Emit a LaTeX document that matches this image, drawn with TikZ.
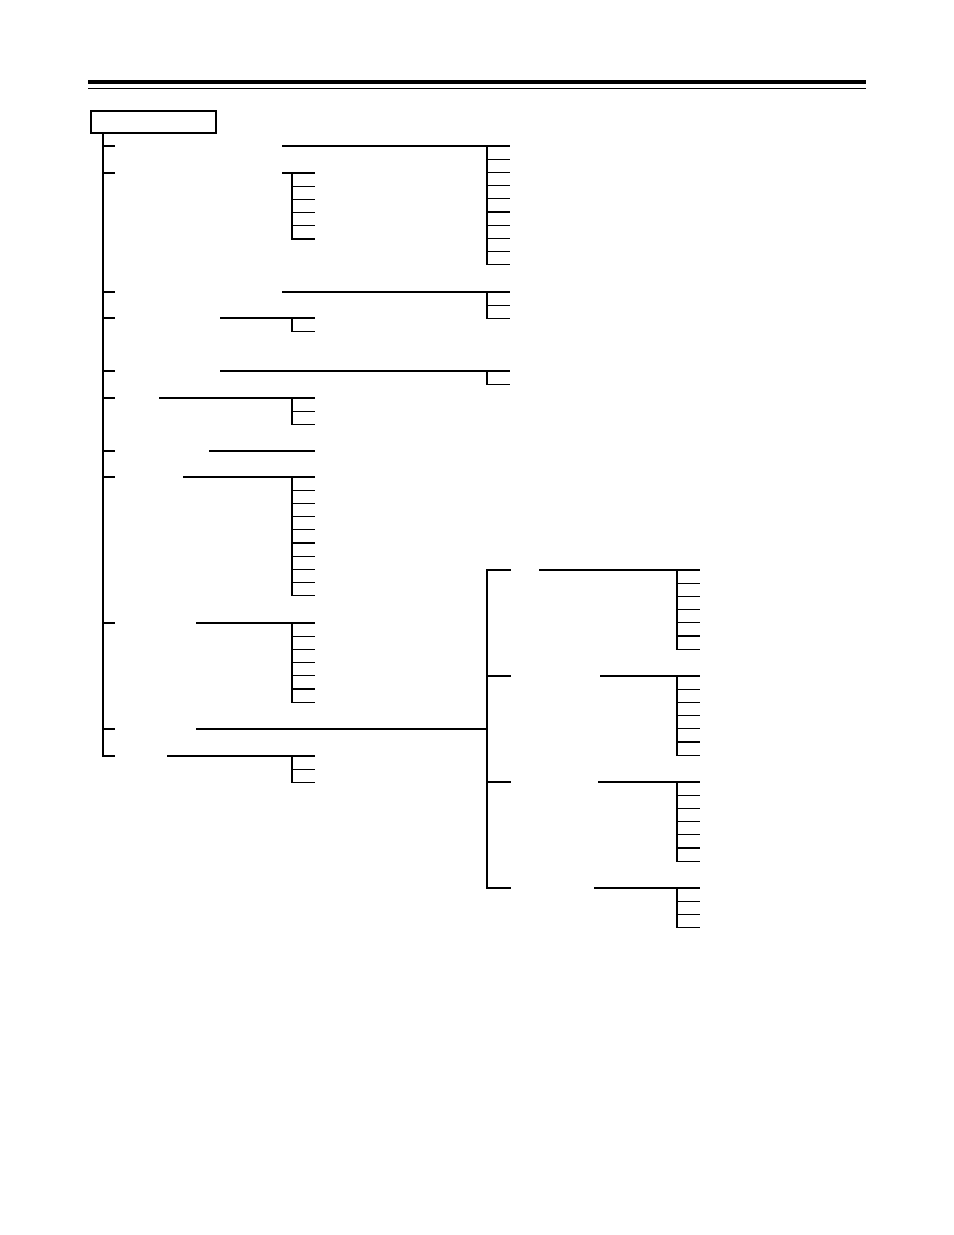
\documentclass[tikz,border=0pt]{standalone}
\usepackage{tikz}
\usetikzlibrary{positioning,calc}
\tikzset{
  branch/.style   = {black, line width=0.7pt, line cap=rect},
  headrule/.style = {black, line width=2.3pt},
  thinrule/.style = {black, line width=0.7pt},
  titlebox/.style = {draw, black, line width=0.8pt, minimum width=80.2pt, minimum height=14.1pt, inner sep=0pt},
}
\begin{document}
\begin{tikzpicture}[x=0.6415pt,y=-0.6415pt]
      \useasboundingbox (0,0) rectangle (954,1235);
      % page head
      \coordinate (hl) at (88,82);
      \coordinate (hr) at (866,82);
      \draw[headrule] (hl) -- (hr);
      \draw[thinrule] ($(hl)+(0,6.5)$) -- ($(hr)+(0,6.5)$);

      \node[titlebox] (top) at (153.5,122) {};
      \coordinate (t0) at (103,133);
      \coordinate (t1) at (103,756);
      \draw[branch] (t0) -- (t1);

      % first level: y / start of line / junction / number of leaves
      \foreach \n/\yy/\xs/\xj/\cnt in {1/146/283/487/10, 2/173/283/292/6, 3/292/283/487/3,
          4/318/221/292/2, 5/371/221/487/2, 6/398/160/292/3, 7/451/210/314/0,
          8/477/184/292/10, 9/623/197/292/7, 10/729/197/487/0, 11/756/168/292/3} {
        \coordinate (tick\n) at (103,\yy);
        \coordinate (lab\n) at (\xs,\yy);
        \coordinate (jun\n) at (\xj,\yy);
        \draw[branch] (tick\n) -- ++(11,0);
        \draw[branch] (lab\n) -- (jun\n);
        \ifnum\cnt>0
          \draw[branch] (jun\n) -- ++(0,{(\cnt-1)*13.2});
          \foreach \k in {1,...,\cnt}
            \draw[branch] ($(jun\n)+(0,{(\k-1)*13.2})$) -- ++(22.5,0);
        \fi
      }

      % second level under row 10
      \coordinate (g0) at (487,570);
      \coordinate (g1) at (487,888);
      \draw[branch] (g0) -- (g1);
      \foreach \n/\yy/\xs/\cnt in {a/570/540/7, b/676/601/7, c/782/599/7, d/888/595/4} {
        \coordinate (gt\n) at (487,\yy);
        \coordinate (gl\n) at (\xs,\yy);
        \coordinate (gj\n) at (677,\yy);
        \draw[branch] (gt\n) -- ++(23,0);
        \draw[branch] (gl\n) -- (gj\n);
        \draw[branch] (gj\n) -- ++(0,{(\cnt-1)*13.2});
        \foreach \k in {1,...,\cnt}
          \draw[branch] ($(gj\n)+(0,{(\k-1)*13.2})$) -- ++(22,0);
      }
\end{tikzpicture}
\end{document}
